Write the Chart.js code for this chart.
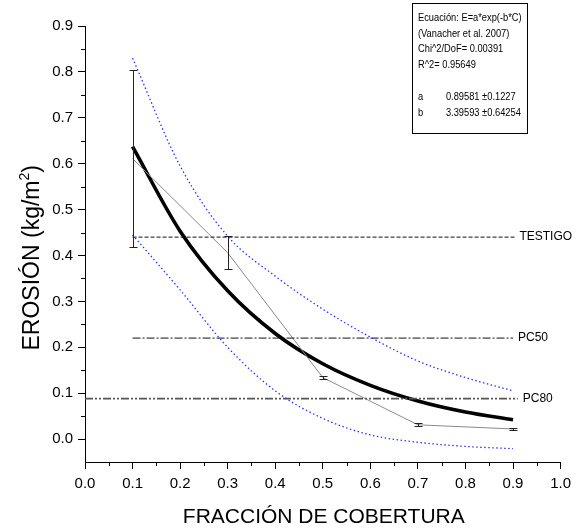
<!DOCTYPE html>
<html>
<head>
<meta charset="utf-8">
<script src="https://cdn.jsdelivr.net/npm/chart.js@4.4.0/dist/chart.umd.min.js"></script>
<style>
    html, body { margin: 0; padding: 0; background: #fff; }
    #wrap { width: 577px; height: 528px; }
</style>
</head>
<body>
<div id="wrap"><canvas id="myChart" width="577" height="528"></canvas></div>
<script>
// measured points with error bars
var coverage = [0.1, 0.3, 0.5, 0.7, 0.9];
var erosion = [0.611, 0.406, 0.134, 0.031, 0.022];
var erosionErr = [0.193, 0.036, 0.004, 0.003, 0.003];

// fitted curve and confidence band
var fitX = [0.1, 0.2, 0.3, 0.4, 0.5, 0.6, 0.7, 0.8, 0.9];
var fitY = [0.637, 0.453, 0.323, 0.230, 0.164, 0.117, 0.083, 0.059, 0.042];
var upperBand = [0.83, 0.595, 0.442, 0.355, 0.283, 0.222, 0.170, 0.134, 0.105];
var lowerBand = [0.445, 0.325, 0.20, 0.105, 0.045, 0.009, -0.007, -0.016, -0.021];

// horizontal reference levels
var refNames = ['TESTIGO', 'PC50', 'PC80'];
var refValues = [0.44, 0.22, 0.088];
var refStart = [0.1, 0.1, 0.0];
var refEnd = [0.903, 0.9, 0.91];

var xTicks = [0.0, 0.1, 0.2, 0.3, 0.4, 0.5, 0.6, 0.7, 0.8, 0.9, 1.0];
var yTicks = [0.0, 0.1, 0.2, 0.3, 0.4, 0.5, 0.6, 0.7, 0.8, 0.9];

var boxLines = ['Ecuación: E=a*exp(-b*C)', '(Vanacher et al. 2007)', 'Chi^2/DoF= 0.00391', 'R^2= 0.95649'];
var paramNames = ['a', 'b'];
var paramValues = ['0.89581 \u00b10.1227', '3.39593 \u00b10.64254'];

var FONT = '"Liberation Sans", Arial, sans-serif';

function pts(xs, ys){
    let out = [];
    for (let i = 0; i < xs.length; i++) out.push({x: xs[i], y: ys[i]});
    return out;
}

function refLine(i){
    return [{x: refStart[i], y: refValues[i]}, {x: refEnd[i], y: refValues[i]}];
}

const extras = {
    id: 'extras',
    afterDatasetsDraw(chart){
        const ctx = chart.ctx;
        const xs = chart.scales.x, ys = chart.scales.y;
        ctx.save();
        // error bars
        ctx.strokeStyle = '#222';
        ctx.lineWidth = 1;
        for (let i = 0; i < coverage.length; i++){
            const px = Math.round(xs.getPixelForValue(coverage[i])) + 0.5;
            const top = Math.round(ys.getPixelForValue(erosion[i] + erosionErr[i])) + 0.5;
            const bot = Math.round(ys.getPixelForValue(erosion[i] - erosionErr[i])) + 0.5;
            ctx.beginPath();
            ctx.moveTo(px, top); ctx.lineTo(px, bot);
            ctx.moveTo(px - 4, top); ctx.lineTo(px + 4, top);
            ctx.moveTo(px - 4, bot); ctx.lineTo(px + 4, bot);
            ctx.stroke();
        }
        // labels of the reference lines
        ctx.fillStyle = '#000';
        ctx.font = '12px ' + FONT;
        ctx.textBaseline = 'middle';
        ctx.textAlign = 'left';
        for (let i = 0; i < refNames.length; i++){
            ctx.fillText(refNames[i], xs.getPixelForValue(refEnd[i]) + 5, ys.getPixelForValue(refValues[i]));
        }
        ctx.restore();
    },
    afterDraw(chart){
        const ctx = chart.ctx;
        const xs = chart.scales.x, ys = chart.scales.y;
        const area = chart.chartArea;
        ctx.save();
        // minor ticks
        ctx.strokeStyle = '#000';
        ctx.lineWidth = 1;
        ctx.beginPath();
        for (let i = 0; i < xTicks.length - 1; i++){
            const px = Math.round(xs.getPixelForValue(xTicks[i] + 0.05)) + 0.5;
            ctx.moveTo(px, area.bottom); ctx.lineTo(px, area.bottom + 4);
        }
        for (let i = 0; i < yTicks.length - 1; i++){
            const py = Math.round(ys.getPixelForValue(yTicks[i] + 0.05)) + 0.5;
            ctx.moveTo(area.left - 4, py); ctx.lineTo(area.left, py);
        }
        ctx.stroke();

        // axis titles
        ctx.fillStyle = '#000';
        ctx.font = '21px ' + FONT;
        ctx.textAlign = 'center';
        ctx.textBaseline = 'alphabetic';
        ctx.fillText('FRACCIÓN DE COBERTURA', (area.left + area.right) / 2 + 1, 523);

        ctx.translate(39, ys.getPixelForValue(0.395));
        ctx.rotate(-Math.PI / 2);
        const mainTxt = 'EROSIÓN (kg/m';
        ctx.font = '23px ' + FONT;
        const w1 = ctx.measureText(mainTxt).width;
        const w3 = ctx.measureText(')').width;
        ctx.font = '14px ' + FONT;
        const w2 = ctx.measureText('2').width;
        let x0 = -(w1 + w2 + w3) / 2;
        ctx.textAlign = 'left';
        ctx.font = '23px ' + FONT;
        ctx.fillText(mainTxt, x0, 0);
        ctx.font = '14px ' + FONT;
        ctx.fillText('2', x0 + w1, -10);
        ctx.font = '23px ' + FONT;
        ctx.fillText(')', x0 + w1 + w2, 0);
        ctx.setTransform(1, 0, 0, 1, 0, 0);

        // fit parameter box
        ctx.strokeStyle = '#000';
        ctx.lineWidth = 1;
        ctx.fillStyle = '#fff';
        ctx.fillRect(412.5, 3.5, 115, 130);
        ctx.strokeRect(412.5, 3.5, 115, 130);
        ctx.fillStyle = '#000';
        ctx.font = '10px ' + FONT;
        ctx.textAlign = 'left';
        ctx.translate(418, 0);
        ctx.scale(0.93, 1);
        for (let i = 0; i < boxLines.length; i++){
            ctx.fillText(boxLines[i], 0, 21 + i * 15.6);
        }
        for (let i = 0; i < paramNames.length; i++){
            ctx.fillText(paramNames[i], 0, 100 + i * 15.6);
            ctx.fillText(paramValues[i], 30, 100 + i * 15.6);
        }
        ctx.restore();
    }
};

new Chart('myChart', {
    type: 'line',
    data: {
        datasets: [{
            label: 'upper',
            data: pts(fitX, upperBand),
            borderColor: 'rgb(50,50,255)',
            borderWidth: 1.3,
            borderDash: [1.5, 2.5],
            cubicInterpolationMode: 'monotone',
            fill: false
        }, {
            label: 'lower',
            data: pts(fitX, lowerBand),
            borderColor: 'rgb(50,50,255)',
            borderWidth: 1.3,
            borderDash: [1.5, 2.5],
            cubicInterpolationMode: 'monotone',
            fill: false
        }, {
            label: 'TESTIGO',
            data: refLine(0),
            borderColor: '#111',
            borderWidth: 1,
            borderDash: [4, 2],
            fill: false
        }, {
            label: 'PC50',
            data: refLine(1),
            borderColor: '#111',
            borderWidth: 1,
            borderDash: [8, 2, 2, 2],
            fill: false
        }, {
            label: 'PC80',
            data: refLine(2),
            borderColor: '#555',
            borderWidth: 1.6,
            borderDash: [8, 2, 2, 2, 2, 2],
            fill: false
        }, {
            label: 'data',
            data: pts(coverage, erosion),
            borderColor: '#8a8a8a',
            borderWidth: 1,
            fill: false
        }, {
            label: 'fit',
            data: pts(fitX, fitY),
            borderColor: '#000',
            borderWidth: 3.6,
            cubicInterpolationMode: 'monotone',
            fill: false
        }]
    },
    options: {
        responsive: false,
        animation: false,
        devicePixelRatio: 1,
        layout: { padding: { top: 26, right: 14, bottom: 0, left: 0 } },
        elements: { point: { radius: 0 } },
        plugins: { legend: { display: false }, tooltip: { enabled: false } },
        scales: {
            x: {
                type: 'linear',
                min: 0,
                max: 1,
                afterBuildTicks: s => { s.ticks = xTicks.map(v => ({value: v})); },
                afterFit: s => { s.height = 66; },
                grid: { drawOnChartArea: false, tickLength: 7, color: '#000' },
                border: { color: '#000', width: 1 },
                ticks: {
                    padding: 6,
                    maxRotation: 0,
                    color: '#000',
                    font: { family: FONT, size: 15 },
                    callback: v => v.toFixed(1)
                }
            },
            y: {
                type: 'linear',
                min: -0.05,
                max: 0.9,
                afterBuildTicks: s => { s.ticks = yTicks.map(v => ({value: v})); },
                afterFit: s => { s.width = 85; },
                grid: { drawOnChartArea: false, tickLength: 7, color: '#000' },
                border: { color: '#000', width: 1 },
                ticks: {
                    padding: 5,
                    color: '#000',
                    font: { family: FONT, size: 15 },
                    callback: v => v.toFixed(1)
                }
            }
        }
    },
    plugins: [extras]
});
</script>
</body>
</html>
